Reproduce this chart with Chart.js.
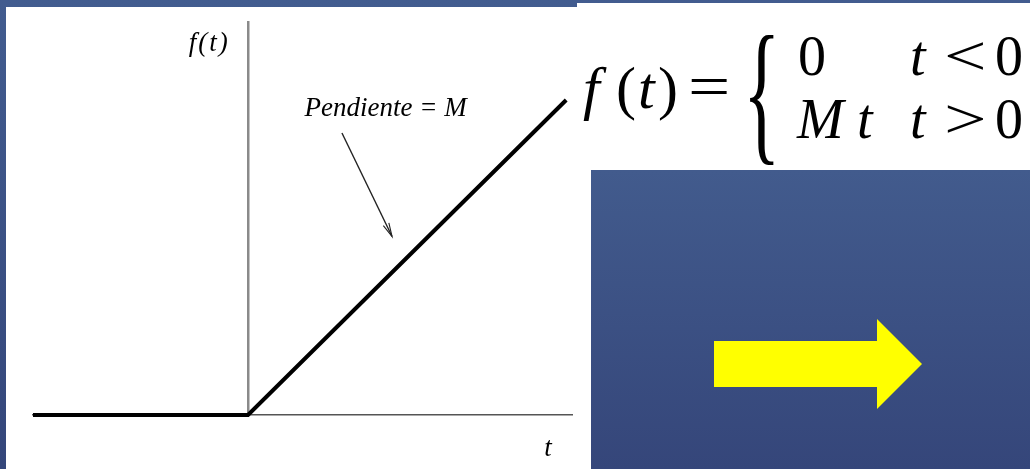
<!DOCTYPE html>
<html>
<head>
<meta charset="utf-8">
<script src="https://cdn.jsdelivr.net/npm/chart.js@4/dist/chart.umd.min.js"></script>
<style>
  html, body { margin: 0; padding: 0; }
  body {
    width: 1030px; height: 469px; overflow: hidden; position: relative;
    background: linear-gradient(#425c8f, #34467a);
    font-family: 'Liberation Serif', serif;
  }
  .panel { position: absolute; background: #fff; }
  #plot { left: 6px; top: 7px; width: 585px; height: 462px; }
  #formulaBox { left: 577px; top: 3px; width: 453px; height: 167px; }
  #blueBox {
    position: absolute; left: 591px; top: 170px; width: 439px; height: 299px;
    background: linear-gradient(#425b8d, #35467a);
  }
  #chartWrap { position: absolute; left: 0; top: 0; width: 1030px; height: 469px; }
  .f { position: absolute; color: #000; white-space: nowrap; line-height: 1; font-size: 56px; }
  .it { font-style: italic; }
  .rel { display: inline-block; transform: scaleX(1.35); transform-origin: left center; }
</style>
</head>
<body>
<div class="panel" id="plot"></div>
<div class="panel" id="formulaBox"></div>
<div id="blueBox"></div>
<svg style="position:absolute;left:0;top:0" width="1030" height="469">
  <polygon points="714,341 877,341 877,319 922,364 877,409 877,387 714,387" fill="#ffff00"/>
</svg>

<div class="f it" style="left:583px;top:58px;font-size:60px;">f</div>
<div class="f" style="left:616px;top:58px;font-size:60px;">(</div>
<div class="f it" style="left:638px;top:58px;font-size:60px;">t</div>
<div class="f" style="left:658px;top:58px;font-size:60px;">)</div>
<div class="f" style="left:688px;top:56px;font-size:60px;"><span class="rel" style="transform:scaleX(1.25)">=</span></div>
<div class="f" style="left:743px;top:14px;font-size:156px;transform:scaleX(0.5);transform-origin:left top;">{</div>
<div class="f" style="left:798px;top:28px;">0</div>
<div class="f it" style="left:910px;top:28px;">t</div>
<div class="f" style="left:944px;top:28px;"><span class="rel">&lt;</span></div>
<div class="f" style="left:995px;top:28px;">0</div>
<div class="f it" style="left:797px;top:91px;">M</div>
<div class="f it" style="left:857px;top:91px;">t</div>
<div class="f it" style="left:910px;top:91px;">t</div>
<div class="f" style="left:944px;top:91px;"><span class="rel">&gt;</span></div>
<div class="f" style="left:995px;top:91px;">0</div>

<div id="chartWrap"><canvas id="chart"></canvas></div>

<script>
// ramp function f(t) = M t for t > 0, 0 for t < 0
const tValues = [-1, 0, 1.48];
const fValues = [0, 0, 1.465];
const tRange = [-1, 1.507];
const fRange = [0, 1.828];

const points = tValues.map((t, i) => ({ x: t, y: fValues[i] }));

// annotation: axis labels, slope label and arrow pointing to the ramp
const annotation = {
  id: 'annotation',
  afterDatasetsDraw(chart) {
    const { ctx, scales } = chart;
    const x = scales.x, y = scales.y;
    ctx.save();
    ctx.fillStyle = '#000';
    ctx.textAlign = 'center';
    ctx.textBaseline = 'middle';

    ctx.font = "italic 27px 'Liberation Serif'";
    ctx.letterSpacing = '2px';
    ctx.fillText('f(t)', x.getPixelForValue(-0.18), y.getPixelForValue(1.725));
    ctx.letterSpacing = '0px';
    ctx.font = "italic 27px 'Liberation Serif'";
    ctx.fillText('t', x.getPixelForValue(1.395), y.getPixelForValue(-0.16));
    ctx.font = "italic 27px 'Liberation Serif'";
    ctx.fillText('Pendiente = M', x.getPixelForValue(0.64), y.getPixelForValue(1.422));

    const x0 = x.getPixelForValue(0.437), y0 = y.getPixelForValue(1.312);
    const x1 = x.getPixelForValue(0.67), y1 = y.getPixelForValue(0.83);
    ctx.strokeStyle = '#222';
    ctx.lineWidth = 1.4;
    ctx.beginPath();
    ctx.moveTo(x0, y0);
    ctx.lineTo(x1, y1);
    ctx.stroke();
    const a = Math.atan2(y1 - y0, x1 - x0);
    ctx.lineWidth = 1.1;
    ctx.beginPath();
    ctx.moveTo(x1 - 14 * Math.cos(a - 0.22), y1 - 14 * Math.sin(a - 0.22));
    ctx.lineTo(x1, y1);
    ctx.lineTo(x1 - 14 * Math.cos(a + 0.22), y1 - 14 * Math.sin(a + 0.22));
    ctx.stroke();
    ctx.restore();
  }
};

new Chart(document.getElementById('chart'), {
  type: 'scatter',
  data: {
    datasets: [{
      data: points,
      showLine: true,
      clip: false,
      borderColor: '#000',
      borderWidth: 4,
      pointRadius: 0,
      tension: 0
    }]
  },
  options: {
    responsive: true,
    maintainAspectRatio: false,
    animation: false,
    events: [],
    layout: { padding: { left: 33, right: 458, top: 22, bottom: 54 } },
    plugins: { legend: { display: false }, tooltip: { enabled: false } },
    scales: {
      x: {
        type: 'linear',
        min: tRange[0], max: tRange[1],
        position: { y: 0 },
        grid: { display: false },
        border: { display: true, color: '#555', width: 1.6 },
        ticks: { display: false }
      },
      y: {
        type: 'linear',
        min: fRange[0], max: fRange[1],
        position: { x: 0 },
        grid: { display: false },
        border: { display: true, color: '#8a8a8a', width: 2.5 },
        ticks: { display: false }
      }
    }
  },
  plugins: [annotation]
});
</script>
</body>
</html>
